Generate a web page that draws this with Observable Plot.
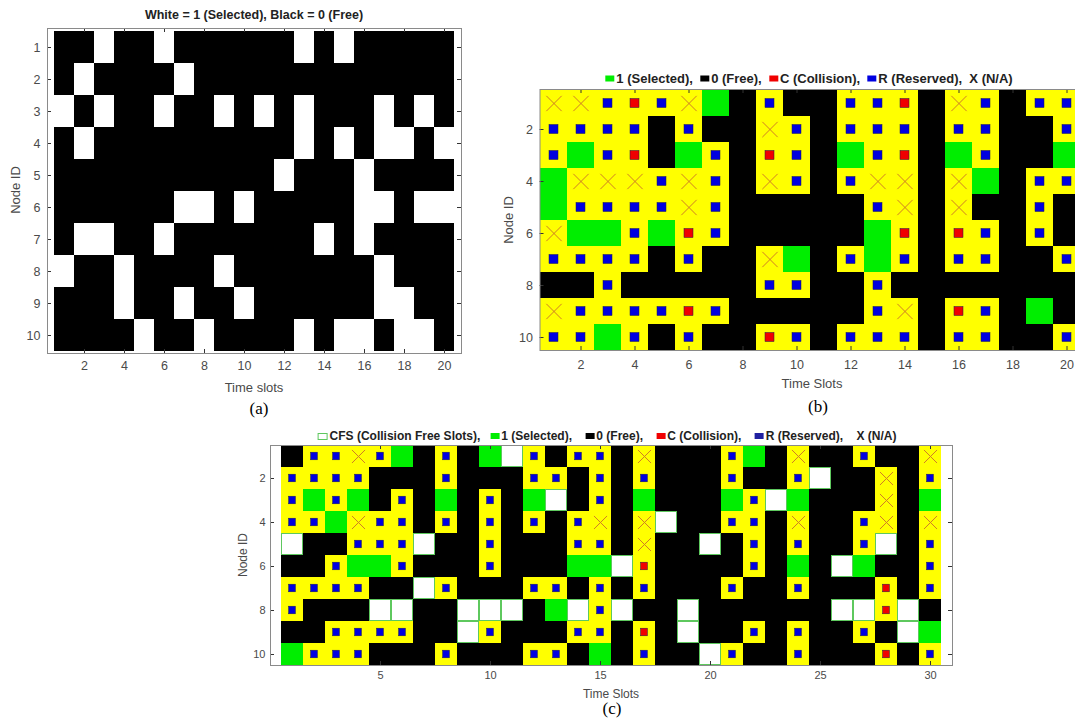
<!DOCTYPE html>
<html><head><meta charset="utf-8">
<script src="https://cdn.jsdelivr.net/npm/d3@7"></script>
<script src="https://cdn.jsdelivr.net/npm/@observablehq/plot@0.6"></script>
<style>
body{margin:0;width:1075px;height:725px;overflow:hidden;background:#fff;position:relative;font-family:"Liberation Sans",Arial,sans-serif;}
.abs{position:absolute;white-space:nowrap;}
.c{transform:translate(-50%,-50%);}
.rot{transform:translate(-50%,-50%) rotate(-90deg);}
.cap{font-family:"Liberation Serif","Times New Roman",serif;font-size:17px;color:#000;}
.lab{color:#4a4a4a;}
.title{font-weight:bold;color:#222;display:flex;align-items:center;}
.sw{display:inline-block;width:9px;height:6px;margin-right:2px;}
svg{overflow:visible;}
</style></head><body>
<script>
// ---- data ----
const nodeIds = [1,2,3,4,5,6,7,8,9,10];
const timeSlots20 = [1,2,3,4,5,6,7,8,9,10,11,12,13,14,15,16,17,18,19,20];
const timeSlots30 = [1,2,3,4,5,6,7,8,9,10,11,12,13,14,15,16,17,18,19,20,21,22,23,24,25,26,27,28,29,30];
const slotTicksA = [2,4,6,8,10,12,14,16,18,20];
const nodeTicksA = [1,2,3,4,5,6,7,8,9,10];
const slotTicksB = [2,4,6,8,10,12,14,16,18,20];
const nodeTicksB = [2,4,6,8,10];
const slotTicksC = [5,10,15,20,25,30];
const nodeTicksC = [2,4,6,8,10];

// (a) 1 = selected (white), 0 = free (black); one string per node, one char per slot
const gridA = [
  "00100100000010100000",
  "01000010000000000000",
  "10100100101010001010",
  "01000000000010101101",
  "00000000000100010000",
  "00000011010000011011",
  "01100100000001010000",
  "10010000100000001000",
  "00010010010000001100",
  "00001001000010110110"
];
// (b) G = 1 selected, K = 0 free, C = collision, R = reserved, X = N/A
const gridB = [
  "XXRCRXGKRKKRRCKXRKRR",
  "RRRRKRKKXRKRRRKRRKKR",
  "RGRCKGRKCRKGRCKGRKKG",
  "GXXXRXRKXRKRXXKXGKRR",
  "GRRRRXRKKKKKRXKXKKRK",
  "XGGRGCRKKKKKGCKCRKRK",
  "RRRRKRKKXGKRGRKRRKKR",
  "KKRKKKKKRRKKRKKKKKKK",
  "XRRRRCRKKKKKRXKCRKGK",
  "RRGRKRKKCRKRRRKRRKKR"
];
// (c) same codes plus W = CFS (collision free slot)
const gridC = [
  "KRRXRGKRKGWRKRRKXKKKRGKXKKRKKX",
  "RRRRKKKRKKKRRKRKRKKKRKKRWKKXKR",
  "RGRGKRKGKRKGWKRKGKKKGRWGKKKXKG",
  "RRGXRRKRKRKRKRXKXWKKRRKXKKRXKX",
  "WKKRRRWKKRKKKRRKXKKWKRKRKKRWKR",
  "KKRGGRKKKRKKKGGWCKKKKRKGKWGKKR",
  "RRRRKKWRKKKRRKRKRKKKRKKRKKKCKR",
  "RKKKWWKKWWWKGWRWKKWKKKKKKWWCWK",
  "KKRRRRKKWRKKKRRKCKWKKRKRKKRKWG",
  "GRRRKKKRKKKRRKGKRKKWRKKRKKKCKR"
];

const fillOf = {"0":"#000000","1":"#ffffff","K":"#000000","G":"#00ee00","R":"#ffff00","C":"#ffff00","X":"#ffff00","W":"#ffffff"};
const toCells = grid => grid.flatMap((row, i) => Array.from(row, (code, j) => ({slot: j + 1, node: i + 1, code})));

function heat(cells, o) {
  const squares = cells.filter(d => d.code === "R" || d.code === "C");
  const crosses = cells.filter(d => d.code === "X");
  const whites = cells.filter(d => d.code === "W");
  const pw = o.width - o.ml - o.mr, ph = o.height - o.mt - o.mb, tl = 4;
  const tick = {stroke: "#333", strokeOpacity: 1, strokeWidth: 1};
  const plot = Plot.plot({
    width: o.width, height: o.height,
    marginLeft: o.ml, marginRight: o.mr, marginTop: o.mt, marginBottom: o.mb,
    x: {type: "band", domain: o.xDomain, padding: 0},
    y: {type: "band", domain: nodeIds, padding: 0},
    style: {fontFamily: "Liberation Sans, Arial, sans-serif", fontSize: o.fs + "px", color: "#4a4a4a", background: "transparent"},
    marks: [
      Plot.cell(cells, {x: "slot", y: "node", fill: d => fillOf[d.code]}),
      Plot.cell(whites, {x: "slot", y: "node", fill: "#ffffff", stroke: "#5ec85e", strokeWidth: 1, inset: 0.5}),
      Plot.cell(squares, {x: "slot", y: "node", fill: d => d.code === "R" ? "#0000e0" : "#f00000",
        stroke: "#1a1a50", strokeWidth: 0.5, insetLeft: o.sqx, insetRight: o.sqx, insetTop: o.sqy, insetBottom: o.sqy}),
      Plot.dot(crosses, {x: "slot", y: "node", symbol: "times", r: o.xr, stroke: "#cf7d25", strokeWidth: 1}),
      Plot.gridX({ticks: o.xTicks, ...tick, insetTop: ph - tl}),
      Plot.gridX({ticks: o.xTicks, ...tick, insetBottom: ph - tl}),
      Plot.gridY({ticks: o.yTicks, ...tick, insetRight: pw - tl}),
      Plot.gridY({ticks: o.yTicks, ...tick, insetLeft: pw - tl}),
      Plot.frame({stroke: "#8a8a8a"}),
      Plot.axisX({ticks: o.xTicks, tickSize: 0, tickPadding: o.tpx, label: null}),
      Plot.axisY({ticks: o.yTicks, tickSize: 0, tickPadding: o.tpy, label: null})
    ]
  });
  plot.style.position = "absolute";
  plot.style.left = o.left + "px";
  plot.style.top = o.top + "px";
  document.body.appendChild(plot);
}

heat(toCells(gridA), {left: 0, top: 0, width: 470, height: 400, ml: 47, mr: 9, mt: 28, mb: 47,
  xDomain: timeSlots20, xTicks: slotTicksA, yTicks: nodeTicksA, fs: 12.5, tpx: 8, tpy: 7, sqx: 0, sqy: 0, xr: 0});
heat(toCells(gridB), {left: 500, top: 60, width: 580, height: 340, ml: 39.5, mr: 0.5, mt: 29, mb: 50,
  xDomain: timeSlots20, xTicks: slotTicksB, yTicks: nodeTicksB, fs: 12.5, tpx: 10, tpy: 7, sqx: 9, sqy: 8.5, xr: 7});
heat(toCells(gridC), {left: 230, top: 440, width: 740, height: 270, ml: 40, mr: 18, mt: 5, mb: 45,
  xDomain: timeSlots30, xTicks: slotTicksC, yTicks: nodeTicksC, fs: 11, tpx: 6, tpy: 5, sqx: 7.6, sqy: 7.2, xr: 6});

// ---- text ----
function txt(html, x, y, cls, style) {
  const d = document.createElement("div");
  d.className = "abs " + cls;
  d.style.left = x + "px"; d.style.top = y + "px";
  if (style) d.style.cssText += style;
  d.innerHTML = html;
  document.body.appendChild(d);
}
const sw = (c, extra) => `<span class="sw" style="background:${c};${extra || ""}"></span>`;

txt("White = 1 (Selected), Black = 0 (Free)", 254, 15, "c title", "font-size:12.5px;");
txt("Time slots", 254, 387, "c lab", "font-size:13px;");
txt("Node ID", 15, 190, "rot lab", "font-size:13px;");
txt("(a)", 259, 409, "c cap");

txt(`${sw("#00ee00")}1 (Selected),&nbsp;&nbsp;${sw("#000")}0 (Free),&nbsp;&nbsp;${sw("#f00000")}C (Collision),&nbsp;&nbsp;${sw("#0000e0")}R (Reserved),&nbsp;&nbsp;X (N/A)`,
  809, 78, "c title", "font-size:13px;");
txt("Time Slots", 812, 383, "c lab", "font-size:13px;");
txt("Node ID", 508, 220, "rot lab", "font-size:13px;");
txt("(b)", 818, 407, "c cap");

txt(`${sw("#fff", "border:1px solid #5ec85e;width:8px;height:5px;")}CFS (Collision Free Slots),&nbsp;&nbsp;&nbsp;${sw("#00ee00")}1 (Selected),&nbsp;&nbsp;&nbsp;&nbsp;${sw("#000")}0 (Free),&nbsp;&nbsp;&nbsp;&nbsp;${sw("#f00000")}C (Collision),&nbsp;&nbsp;&nbsp;&nbsp;${sw("#2020a0")}R (Reserved),&nbsp;&nbsp;&nbsp;&nbsp;X (N/A)`,
  607, 436, "c title", "font-size:12px;");
txt("Time Slots", 611, 694, "c lab", "font-size:12px;");
txt("Node ID", 243, 555, "rot lab", "font-size:12px;");
txt("(c)", 612, 709, "c cap");
</script>
</body></html>
